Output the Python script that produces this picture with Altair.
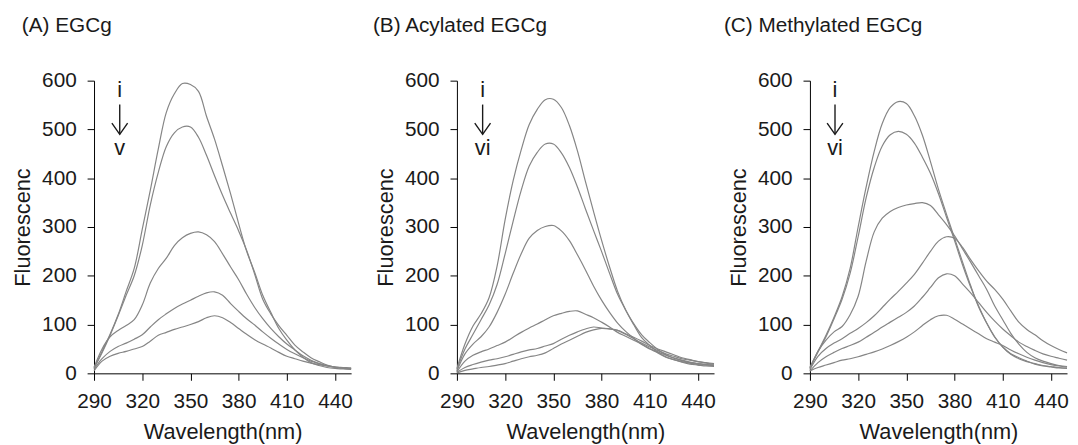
import altair as alt
import pandas as pd

# ---------------- data ----------------
wavelength = list(range(290, 451, 5))

# (A) EGCg
a_i = [12, 45, 80, 120, 168, 215, 295, 375, 460, 535, 573, 594, 592, 578, 527, 480, 425, 368, 307, 250, 207, 160, 125, 92, 68, 48, 33, 22, 16, 12, 10, 9, 8]
a_ii = [10, 42, 78, 118, 160, 200, 262, 345, 412, 465, 493, 505, 505, 484, 447, 405, 365, 328, 292, 252, 203, 152, 122, 98, 78, 58, 44, 32, 24, 17, 13, 12, 11]
a_iii = [12, 50, 75, 88, 98, 110, 140, 185, 215, 236, 262, 278, 287, 290, 284, 270, 245, 218, 192, 162, 135, 112, 92, 75, 60, 48, 36, 27, 20, 15, 12, 10, 9]
a_iv = [8, 30, 45, 55, 62, 70, 79, 95, 110, 122, 133, 142, 150, 158, 165, 167, 160, 143, 127, 112, 99, 85, 72, 60, 49, 40, 32, 25, 20, 16, 13, 11, 10]
a_v = [5, 25, 35, 41, 45, 50, 55, 66, 78, 84, 90, 95, 100, 106, 114, 118, 114, 104, 92, 80, 69, 60, 52, 43, 35, 30, 25, 21, 18, 15, 13, 11, 10]

# (B) Acylated EGCg
b_i = [10, 60, 97, 122, 155, 220, 315, 395, 458, 510, 541, 561, 562, 545, 508, 456, 393, 332, 273, 218, 168, 130, 100, 73, 57, 44, 34, 28, 23, 19, 17, 15, 14]
b_ii = [8, 50, 80, 110, 140, 182, 245, 312, 375, 425, 453, 470, 470, 452, 422, 382, 337, 293, 250, 205, 162, 130, 102, 79, 63, 49, 38, 31, 26, 22, 20, 18, 17]
b_iii = [5, 40, 60, 75, 95, 125, 162, 205, 245, 277, 293, 301, 303, 292, 272, 243, 212, 179, 150, 125, 103, 86, 72, 59, 50, 42, 33, 28, 24, 21, 18, 17, 16]
b_iv = [3, 25, 37, 44, 50, 57, 64, 74, 84, 93, 101, 110, 118, 123, 127, 128, 121, 114, 105, 95, 84, 76, 68, 60, 51, 44, 37, 32, 27, 23, 20, 18, 17]
b_v = [2, 12, 18, 23, 27, 30, 34, 39, 44, 48, 51, 56, 61, 70, 78, 85, 91, 95, 93, 91, 88, 81, 74, 66, 57, 50, 44, 38, 32, 28, 24, 22, 20]
b_vi = [1, 6, 9, 12, 14, 17, 20, 25, 30, 34, 37, 42, 51, 60, 68, 76, 84, 89, 92, 91, 88, 80, 71, 62, 54, 47, 40, 35, 30, 27, 24, 21, 19]

# (C) Methylated EGCg
c_i = [12, 45, 78, 115, 157, 215, 300, 382, 455, 512, 545, 557, 553, 528, 488, 434, 377, 326, 277, 228, 180, 136, 103, 74, 54, 40, 32, 25, 19, 15, 13, 11, 10]
c_ii = [12, 44, 75, 112, 152, 205, 280, 360, 422, 466, 489, 496, 490, 472, 443, 410, 368, 320, 272, 222, 177, 138, 103, 75, 54, 39, 30, 24, 20, 16, 14, 12, 11]
c_iii = [10, 45, 68, 85, 96, 120, 158, 230, 290, 318, 332, 340, 345, 348, 350, 344, 325, 305, 282, 255, 228, 200, 172, 138, 110, 82, 60, 43, 32, 25, 20, 16, 14]
c_iv = [8, 35, 51, 62, 71, 82, 92, 104, 118, 135, 152, 168, 185, 203, 226, 250, 271, 280, 277, 258, 233, 210, 189, 172, 152, 128, 105, 90, 79, 67, 57, 49, 42]
c_v = [5, 22, 34, 43, 51, 57, 64, 74, 84, 95, 105, 115, 125, 138, 156, 176, 196, 204, 200, 183, 165, 145, 125, 107, 91, 77, 64, 55, 47, 40, 35, 31, 27]
c_vi = [5, 12, 17, 22, 27, 30, 34, 39, 44, 50, 57, 65, 74, 85, 98, 110, 118, 119, 111, 101, 91, 81, 71, 64, 57, 48, 40, 33, 27, 22, 18, 15, 13]

x_ticks = [290, 320, 350, 380, 410, 440]
y_ticks = [0, 100, 200, 300, 400, 500, 600]

panel_titles = ["(A) EGCg", "(B) Acylated EGCg", "(C) Methylated EGCg"]
panel_curves = [
    {"i": a_i, "ii": a_ii, "iii": a_iii, "iv": a_iv, "v": a_v},
    {"i": b_i, "ii": b_ii, "iii": b_iii, "iv": b_iv, "v": b_v, "vi": b_vi},
    {"i": c_i, "ii": c_ii, "iii": c_iii, "iv": c_iv, "v": c_v, "vi": c_vi},
]
last_labels = ["v", "vi", "vi"]
title_dx = [-73, -85, -87]

# annotation (i -> last) position, in data units
ann_x = [306, 306, 305.6]
ann_top_label_y = 581
ann_arrow_top = 551
ann_arrow_bottom = 490
ann_head_y = 513
ann_head_half = 4.9
ann_bottom_label_y = 461

FONT = "Liberation Sans"
LINE_COLOR = "#858585"
TEXT_COLOR = "#1a1a1a"


def make_panel(k):
    rows = []
    for name, vals in panel_curves[k].items():
        for w, v in zip(wavelength, vals):
            rows.append({"wl": w, "val": v, "curve": name})
    df = pd.DataFrame(rows)

    xscale = alt.Scale(domain=[290, 450], nice=False, zero=False)
    yscale = alt.Scale(domain=[0, 600], nice=False)

    lines = alt.Chart(df).mark_line(
        color=LINE_COLOR, strokeWidth=1.2, interpolate="catmull-rom"
    ).encode(
        x=alt.X("wl:Q", scale=xscale,
                axis=alt.Axis(values=x_ticks, title="Wavelength(nm)", grid=False,
                              tickSize=7, labelPadding=11, titlePadding=10,
                              labelOverlap=False, labelFlush=False)),
        y=alt.Y("val:Q", scale=yscale,
                axis=alt.Axis(values=y_ticks, title="Fluorescenc", grid=False,
                              tickSize=7, labelPadding=11, titlePadding=7,
                              labelOverlap=False, labelFlush=False)),
        detail="curve:N",
    )

    ax = ann_x[k]
    txt = pd.DataFrame({
        "x": [ax, ax],
        "y": [ann_top_label_y, ann_bottom_label_y],
        "t": ["i", last_labels[k]],
    })
    labels = alt.Chart(txt).mark_text(
        font=FONT, fontSize=22, color=TEXT_COLOR, baseline="middle", align="center"
    ).encode(x=alt.X("x:Q", scale=xscale), y=alt.Y("y:Q", scale=yscale), text="t:N")

    shaft = alt.Chart(pd.DataFrame({"x": [ax], "y": [ann_arrow_top], "y2": [ann_arrow_bottom]})).mark_rule(
        color=TEXT_COLOR, strokeWidth=1.4
    ).encode(x=alt.X("x:Q", scale=xscale), y=alt.Y("y:Q", scale=yscale), y2="y2:Q")

    head = alt.Chart(pd.DataFrame({
        "x": [ax - ann_head_half, ax, ax + ann_head_half],
        "y": [ann_head_y, ann_arrow_bottom, ann_head_y],
        "o": [0, 1, 2],
    })).mark_line(color=TEXT_COLOR, strokeWidth=1.4).encode(
        x=alt.X("x:Q", scale=xscale), y=alt.Y("y:Q", scale=yscale), order="o:Q"
    )

    return alt.layer(lines, shaft, head, labels).properties(
        width=260, height=296,
        title=alt.TitleParams(
            text=panel_titles[k], anchor="start", frame="group", dx=title_dx[k],
            offset=34, font=FONT, fontSize=21, fontWeight="normal", color=TEXT_COLOR,
        ),
    )


pA, pB, pC = make_panel(0), make_panel(1), make_panel(2)
inner = alt.hconcat(pA, pB, spacing=19)
chart = alt.hconcat(inner, pC, spacing=7).configure_view(
    stroke=None
).configure_axis(
    domainColor="#000", tickColor="#000", domainWidth=1, tickWidth=1,
    labelFont=FONT, labelFontSize=21, labelColor=TEXT_COLOR,
    titleFont=FONT, titleFontSize=22, titleFontWeight="normal", titleColor=TEXT_COLOR,
).properties(padding={"left": 3, "top": 5, "right": 0, "bottom": 0})

chart.save("out.html", embed_options={"renderer": "svg", "actions": False})
